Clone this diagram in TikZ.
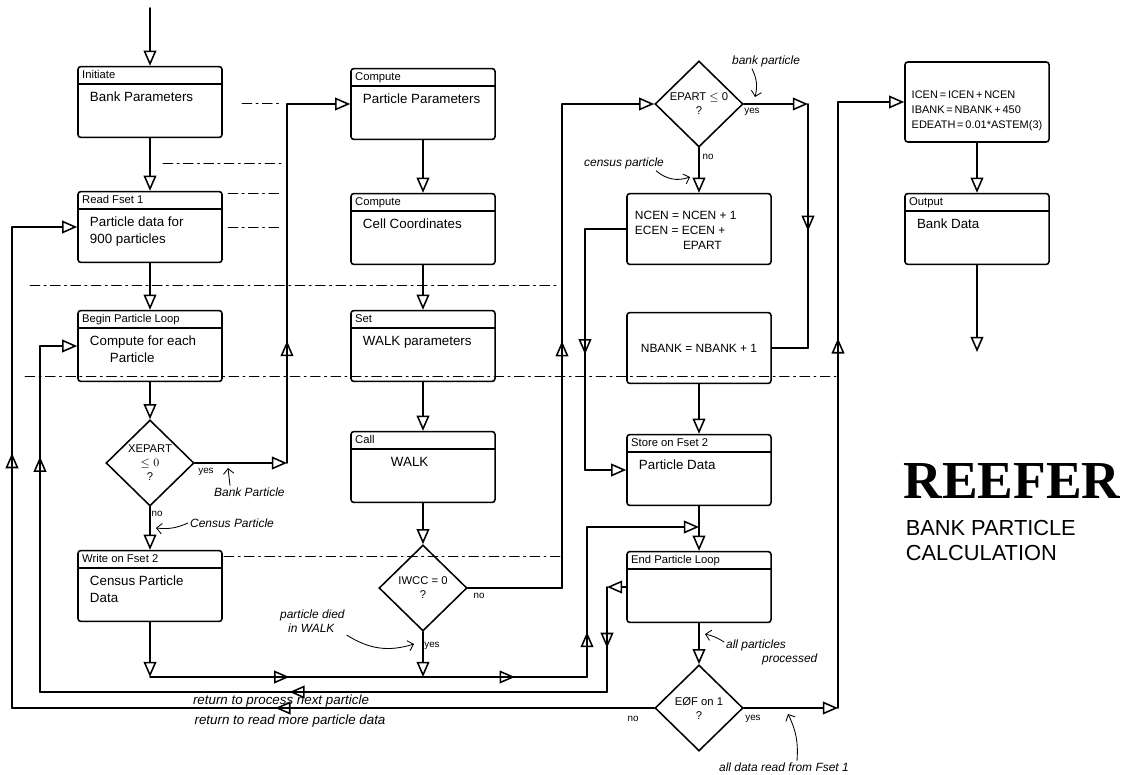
\documentclass[tikz,border=0pt]{standalone}
\usepackage{fontspec}
\setmainfont{Liberation Sans}
\newfontfamily\titlefont{Liberation Serif}
\usetikzlibrary{positioning,arrows.meta,shapes.geometric,decorations.markings}

\begin{document}
\begin{tikzpicture}[x=0.025cm,y=-0.025cm,line width=1.1pt,line cap=round,
    bx/.style={draw,rounded corners=2pt,minimum width=3.6cm,minimum height=1.77cm,inner sep=0pt},
    hbx/.style={bx,path picture={\draw ([yshift=-0.44cm]path picture bounding box.north west) -- ([yshift=-0.44cm]path picture bounding box.north east);}},
    hd/.style={anchor=north west,font=\fontsize{8}{9}\selectfont,inner sep=0pt,xshift=3pt,yshift=-3pt},
    bd/.style={anchor=north west,font=\fontsize{9.5}{12}\selectfont,align=left,inner sep=0pt,xshift=0.3cm,yshift=-0.64cm},
    dm/.style={draw,diamond,minimum width=2.2cm,minimum height=2.15cm,inner sep=0pt,align=center,font=\fontsize{8}{10}\selectfont},
    tx/.style={font=\fontsize{8.5}{10.5}\selectfont,align=left,inner sep=0pt},
    lb/.style={font=\fontsize{7}{8}\selectfont,inner sep=1pt},
    nt/.style={font=\fontsize{8.5}{10}\selectfont\itshape,inner sep=1pt},
    f/.style={-{Triangle[open,length=3.8mm,width=3.2mm]}},
    mid/.style={postaction={decorate},decoration={markings,mark=at position #1 with {\arrow{Triangle[open,length=3.8mm,width=3.2mm]}}}},
    an/.style={-{Straight Barb[length=1.3mm]},line width=0.6pt},
    gd/.style={line width=0.5pt,dash pattern=on 7pt off 3pt on 1.5pt off 3pt}]
  \useasboundingbox (0,0) rectangle (1128,774);

  % faint guide lines
  \draw[gd] (30,285) -- (558,285);
  \draw[gd] (25,376) -- (836,376);
  \draw[gd] (224,556) -- (560,556);
  \draw[gd] (163,163) -- (282,163);
  \draw[gd] (228,193) -- (282,193);
  \draw[gd] (228,227) -- (282,227);
  \draw[gd] (242,103) -- (280,103);

  % column 1
  \node[hbx] (ini) at (150,102) {};
  \node[hd] (inih) at (ini.north west) {Initiate};
  \node[bd] (inib) at (ini.north west) {Bank Parameters};
  \node[hbx] (rd) at (150,227) {};
  \node[hd] (rdh) at (rd.north west) {Read Fset 1};
  \node[bd] (rdb) at (rd.north west) {Particle data for\\900 particles};
  \node[hbx] (bpl) at (150,346) {};
  \node[hd] (bplh) at (bpl.north west) {Begin Particle Loop};
  \node[bd] (bplb) at (bpl.north west) {Compute for each\\\hspace*{5mm}Particle};
  \node[dm] (xep) at (150,463) {XEPART\\$\le 0$\\?};
  \node[hbx] (wr) at (150,586) {};
  \node[hd] (wrh) at (wr.north west) {Write on Fset 2};
  \node[bd] (wrb) at (wr.north west) {Census Particle\\Data};

  % column 2
  \node[hbx] (cp1) at (423,104) {};
  \node[hd] (cp1h) at (cp1.north west) {Compute};
  \node[bd] (cp1b) at (cp1.north west) {Particle Parameters};
  \node[hbx] (cp2) at (423,229) {};
  \node[hd] (cp2h) at (cp2.north west) {Compute};
  \node[bd] (cp2b) at (cp2.north west) {Cell Coordinates};
  \node[hbx] (set) at (423,346) {};
  \node[hd] (seth) at (set.north west) {Set};
  \node[bd] (setb) at (set.north west) {WALK parameters};
  \node[hbx] (call) at (423,467) {};
  \node[hd] (callh) at (call.north west) {Call};
  \node[bd,xshift=0.7cm] (callb) at (call.north west) {WALK};
  \node[dm] (iwcc) at (423,588) {IWCC = 0\\?};

  % column 3
  \node[dm] (epart) at (699,104) {EPART $\le$ 0\\?};
  \node[bx] (ncen) at (699,229) {};
  \node[tx,anchor=north west] (ncent) at ([xshift=0.2cm,yshift=-0.45cm]ncen.north west) {NCEN = NCEN + 1\\ECEN = ECEN +\\\hspace*{1.2cm}EPART};
  \node[bx,tx] (nbank) at (699,348) {NBANK = NBANK + 1};
  \node[hbx] (store) at (699,470) {};
  \node[hd] (storeh) at (store.north west) {Store on Fset 2};
  \node[bd] (storeb) at (store.north west) {Particle Data};
  \node[hbx] (endl) at (699,587) {};
  \node[hd] (endlh) at (endl.north west) {End Particle Loop};
  \node[dm] (eof) at (699,708) {E\O F on 1\\?};

  % column 4
  \node[bx,minimum height=2cm] (calc) at (977,102) {};
  \node[tx,font=\fontsize{7.8}{10.5}\selectfont] (calct) at ([yshift=-0.22cm]calc.center) {ICEN\,=\,ICEN\,+\,NCEN\\IBANK\,=\,NBANK\,+\,450\\EDEATH\,=\,0.01*ASTEM(3)};
  \node[hbx] (out) at (977,229) {};
  \node[hd] (outh) at (out.north west) {Output};
  \node[bd] (outb) at (out.north west) {Bank Data};

  % title
  \node[font=\titlefont\bfseries\fontsize{38}{40}\selectfont,inner sep=0pt] (ttl) at (1012,481) {REEFER};
  \node[font=\fontsize{15.5}{18}\selectfont,anchor=west,inner sep=0pt] (sub1) at (905,528) {BANK PARTICLE};
  \node[font=\fontsize{15.5}{18}\selectfont,anchor=west,inner sep=0pt] (sub2) at (905,553) {CALCULATION};

  % corners
  \coordinate (entry) at (150,8);
  \coordinate (ya) at (287,463);
  \coordinate (yb) at (ya |- cp1.west);
  \coordinate (la) at (12,708);
  \coordinate (lb) at (la |- rd.west);
  \coordinate (ra) at (40,692);
  \coordinate (rb) at (ra |- bpl.west);
  \coordinate (na) at (562,588);
  \coordinate (nb) at (na |- epart.west);
  \coordinate (ca) at (585,229);
  \coordinate (cb) at (ca |- store.west);
  \coordinate (ba) at (808,104);
  \coordinate (bb) at (ba |- nbank.east);
  \coordinate (ea) at (838,708);
  \coordinate (eb) at (ea |- calc.west);
  \coordinate (wa) at (150,677);
  \coordinate (wb) at (423,677);
  \coordinate (wc) at (587,677);
  \coordinate (wd) at (587,527);
  \coordinate (we) at (699,527);
  \coordinate (pa) at (607,587);
  \coordinate (pb) at (607,692);
  \coordinate (oe) at (977,352);

  % main flow
  \draw[f] (entry) -- (ini);
  \draw[f] (ini) -- (rd);
  \draw[f] (rd) -- (bpl);
  \draw[f] (bpl) -- (xep);
  \draw[f] (xep) -- (wr);
  \draw[f] (cp1) -- (cp2);
  \draw[f] (cp2) -- (set);
  \draw[f] (set) -- (call);
  \draw[f] (call) -- (iwcc);
  \draw[f] (epart) -- (ncen);
  \draw[f] (nbank) -- (store);
  \draw[f] (store) -- (endl);
  \draw[f] (endl) -- (eof);
  \draw[f] (calc) -- (out);
  \draw[f] (out) -- (oe);

  % bank particle to Compute
  \draw[f] (xep.east) -- (ya);
  \draw[mid=0.34] (ya) -- (yb);
  \draw[f] (yb) -- (cp1.west);
  % census particle joins
  \draw[f] (wr) -- (wa);
  \draw[mid=0.51] (wa) -- (wb);
  \draw[f] (iwcc) -- (wb);
  \draw[mid=0.56] (wb) -- (wc);
  \draw[mid=0.3] (wc) -- (wd);
  \draw[f] (wd) -- (we);
  % particle still alive
  \draw (iwcc.east) -- (na);
  \draw[mid=0.51] (na) -- (nb);
  \draw[f] (nb) -- (epart.west);
  \draw[f] (epart.east) -- (ba);
  \draw[mid=0.52] (ba) -- (bb);
  \draw (bb) -- (nbank.east);
  \draw (ncen.west) -- (ca);
  \draw[mid=0.52] (ca) -- (cb);
  \draw[f] (cb) -- (store.west);
  % loops back
  \draw[f] (endl.west) -- (pa);
  \draw[mid=0.58] (pa) -- (pb);
  \draw[mid=0.56] (pb) -- (ra);
  \draw[mid=0.68] (ra) -- (rb);
  \draw[f] (rb) -- (bpl.west);
  \draw[mid=0.59] (eof.west) -- (la);
  \draw[mid=0.53] (la) -- (lb);
  \draw[f] (lb) -- (rd.west);
  \draw[f] (eof.east) -- (ea);
  \draw[mid=0.61] (ea) -- (eb);
  \draw[f] (eb) -- (calc.west);

  % yes / no
  \node[lb] (xy) at (206,472) {yes};
  \node[lb] (xn) at (157,514) {no};
  \node[lb] (iwn) at (479,596) {no};
  \node[lb] (iwy) at (432,646) {yes};
  \node[lb] (epy) at (752,112) {yes};
  \node[lb] (epn) at (708,157) {no};
  \node[lb] (eon) at (633,719) {no};
  \node[lb] (eoy) at (753,719) {yes};

  % notes
  \node[nt,anchor=west] (bkp) at (212,492) {Bank Particle};
  \node[nt,anchor=west] (cen) at (188,523) {Census Particle};
  \node[nt,align=left,anchor=north west] (died) at (278,608) {particle died\\\hspace*{2mm}in WALK};
  \node[nt,anchor=west] (bnk) at (730,61) {bank particle};
  \node[nt,anchor=west] (cns) at (582,163) {census particle};
  \node[nt,align=left,anchor=north west] (app) at (724,638) {all particles\\\hspace*{9mm}processed};
  \node[nt,anchor=west] (adr) at (717,767) {all data read from Fset 1};
  \node[nt,font=\fontsize{9.5}{10}\selectfont\itshape] (rnp) at (281,701) {return to process next particle};
  \node[nt,font=\fontsize{9.5}{10}\selectfont\itshape] (rrd) at (290,721) {return to read more particle data};
  \coordinate (t1) at (228,468);
  \coordinate (t2) at (156,528);
  \coordinate (t3) at (414,644);
  \coordinate (t4) at (755,97);
  \coordinate (t5) at (690,177);
  \coordinate (t6) at (705,634);
  \coordinate (t7) at (788,714);
  \draw[an] ([xshift=0.45cm]bkp.north west) -- (t1);
  \draw[an] (cen.west) to[bend left=15] (t2);
  \draw[an] (died.south east) to[bend right=25] (t3);
  \draw[an] ([xshift=0.55cm]bnk.south west) to[bend left=20] (t4);
  \draw[an] ([xshift=-0.25cm]cns.south east) to[bend right=30] (t5);
  \draw[an] ([yshift=-0.1cm]app.north west) to[bend right=10] (t6);
  \draw[an] ([xshift=2cm]adr.north west) to[bend right=15] (t7);
\end{tikzpicture}
\end{document}
